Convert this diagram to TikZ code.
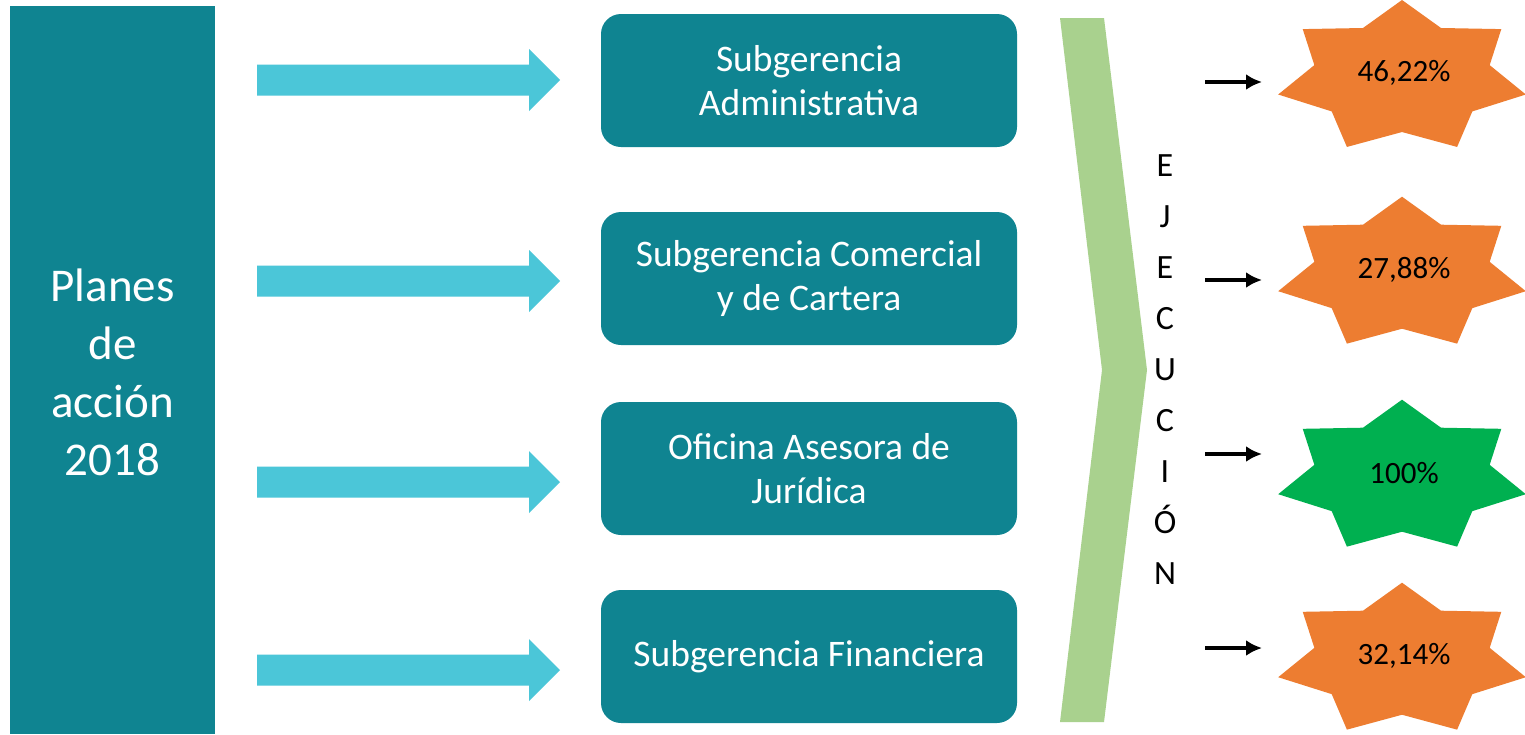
\documentclass[tikz,border=0pt]{standalone}
\usepackage{fontspec}
\setmainfont{Carlito}
\usetikzlibrary{arrows.meta}
\definecolor{teal1}{HTML}{0F8491}
\definecolor{cyan1}{HTML}{4BC6D8}
\definecolor{chev}{HTML}{A9D18E}
\definecolor{orng}{HTML}{ED7D31}
\definecolor{grn}{HTML}{00B050}
\newcommand{\sevenstar}[3]{%
  \fill[#3] plot[samples at={0,...,13}, variable=\k]
    ({#1 + 127*(0.854+0.146*cos(\k*180))*cos(90+\k*360/14)},
     {#2 - 77.3*(0.854+0.146*cos(\k*180))*sin(90+\k*360/14)}) -- cycle;}
\newcommand{\blockarrow}[1]{%
  \fill[cyan1] (257,#1-15.5) -- (529,#1-15.5) -- (529,#1-31) -- (560,#1)
    -- (529,#1+31) -- (529,#1+15.5) -- (257,#1+15.5) -- cycle;}
\begin{document}
\begin{tikzpicture}[x=1pt,y=-1pt,
  box/.style={fill=teal1, rounded corners=20pt, minimum width=416pt, minimum height=133pt,
    text=white, align=center, font=\fontsize{37.5}{44}\selectfont, inner sep=0pt},
  pct/.style={font=\fontsize{31}{36}\selectfont, text=black},
  small/.style={line width=3.4pt, -{Latex[length=16pt,width=16pt]}}]
\useasboundingbox (0,0) rectangle (1525,734);
\fill[white] (0,0) rectangle (1525,734);
% left bar
\node[fill=teal1, minimum width=205pt, minimum height=728pt, inner sep=0pt,
  text=white, align=center, font=\fontsize{47}{58}\selectfont] (plan) at (112.5,370)
  {};
\node[text=white, align=center, font=\fontsize{47}{58}\selectfont] (plant) at (112.5,372.5)
  {Planes\\de\\acción\\2018};
% block arrows
\blockarrow{80}
\blockarrow{281}
\blockarrow{482}
\blockarrow{670}
% boxes
\node[box] (b1) at (809,80.5) {Subgerencia\\Administrativa};
\node[box] (b2) at (809,278.5) {Subgerencia Comercial\\y de Cartera};
\node[box] (b3) at (809,468.5) {Oficina Asesora de\\Jurídica};
\node[box] (b4) at (809,656.5) {Subgerencia Financiera};
% chevron
\fill[chev] (1060,18) -- (1104,18) -- (1147,370) -- (1104,722) -- (1060,722) -- (1102,370) -- cycle;
\node[font=\fontsize{34}{51}\selectfont, align=center, text=black] (ej) at (1165,370)
  {E\\J\\E\\C\\U\\C\\I\\Ó\\N};
% stars
\sevenstar{1402}{77.3}{orng}
\sevenstar{1402}{274}{orng}
\sevenstar{1402}{477}{grn}
\sevenstar{1402}{660}{orng}
\node[pct] (s1) at (1404,73) {46,22\%};
\node[pct] (s2) at (1404,270) {27,88\%};
\node[pct] (s3) at (1404,473) {100\%};
\node[pct] (s4) at (1404,656) {32,14\%};
% small arrows
\coordinate (a1) at (1205,82);  \coordinate (e1) at (1262,82);
\coordinate (a2) at (1205,280); \coordinate (e2) at (1262,280);
\coordinate (a3) at (1205,454); \coordinate (e3) at (1262,454);
\coordinate (a4) at (1205,648); \coordinate (e4) at (1262,648);
\draw[small] (a1) -- (e1);
\draw[small] (a2) -- (e2);
\draw[small] (a3) -- (e3);
\draw[small] (a4) -- (e4);
\end{tikzpicture}
\end{document}
